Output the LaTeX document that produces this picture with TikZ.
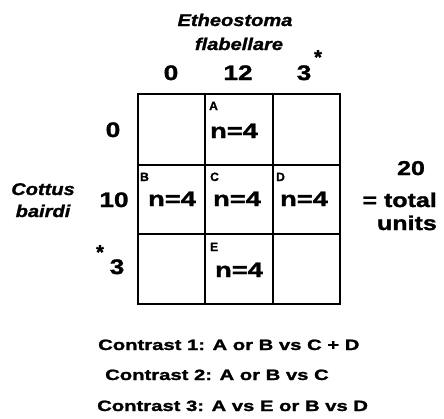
\documentclass[tikz,border=0pt]{standalone}
\usepackage{fontspec}
\setmainfont{Liberation Sans}[FakeBold=1.2]
\newfontfamily\fWide{Liberation Sans}[FakeStretch=1.35,FakeBold=1.5]
\newfontfamily\fNum{Liberation Sans}[FakeStretch=1.3,FakeBold=1.6]
\newfontfamily\fMid{Liberation Sans}[FakeStretch=1.25,FakeBold=1.5]
\newfontfamily\fIt{Liberation Sans}[FakeStretch=1.18,FakeBold=1.3]
\tikzset{
  txt/.style={inner sep=0pt, anchor=base},
  contrast/.style={txt, anchor=base west, font=\fWide\bfseries\fontsize{15}{17}\selectfont},
  nval/.style={txt, font=\fNum\bfseries\fontsize{21}{24}\selectfont},
  cellid/.style={txt, anchor=base west, font=\fontsize{12}{14}\selectfont\bfseries},
  axisnum/.style={txt, font=\fMid\bfseries\fontsize{21}{24}\selectfont},
  species/.style={txt, font=\fIt\bfseries\itshape\fontsize{17}{19}\selectfont},
  totals/.style={txt, font=\fMid\bfseries\fontsize{20}{23}\selectfont},
  star/.style={txt, font=\bfseries\fontsize{20}{22}\selectfont},
  gridline/.style={line width=1.2pt}
}
\begin{document}
\begin{tikzpicture}[x=1pt,y=-1pt]
\path[use as bounding box] (0,0) rectangle (444,418);
% grid
\coordinate (g00) at (138,94);
\coordinate (g11) at (340,304);
\draw[gridline] (g00) rectangle (g11);
\draw[gridline] (205,94) -- (205,304);
\draw[gridline] (273,94) -- (273,304);
\draw[gridline] (138,165) -- (340,165);
\draw[gridline] (138,234) -- (340,234);
% species labels
\node[species] (eth1) at (235,26) {Etheostoma};
\node[species] (eth2) at (239,50) {flabellare};
\node[species] (cot1) at (43,195) {Cottus};
\node[species] (cot2) at (43,217) {bairdi};
% column headers
\node[axisnum] (c0) at (171,80) {0};
\node[axisnum] (c12) at (238,80) {12};
\node[axisnum] (c3) at (304,80) {3};
\node[star] (cs) at (318,64) {*};
% row headers
\node[axisnum] (r0) at (113,137) {0};
\node[axisnum] (r10) at (114,207) {10};
\node[axisnum] (r3) at (117,274) {3};
\node[star] (rs) at (100,259) {*};
% cell ids
\node[cellid] (la) at (209,110) {A};
\node[cellid] (lb) at (140,181) {B};
\node[cellid] (lc) at (210,181) {C};
\node[cellid] (ld) at (276,181) {D};
\node[cellid] (le) at (210,251) {E};
% n values
\node[nval] (na) at (234,138) {n=4};
\node[nval] (nb) at (172,206) {n=4};
\node[nval] (nc) at (237,206) {n=4};
\node[nval] (nd) at (304,206) {n=4};
\node[nval] (ne) at (239,277) {n=4};
% totals
\node[totals] (t20) at (411,175) {20};
\node[totals, anchor=base east] (ttot) at (437,207) {= total};
\node[totals, anchor=base east] (tun) at (437,230) {units};
% contrasts
\node[contrast] (k1) at (98,350) {Contrast 1: A or B vs C + D};
\node[contrast] (k2) at (105,380) {Contrast 2: A or B vs C};
\node[contrast] (k3) at (97,411) {Contrast 3: A vs E or B vs D};
\end{tikzpicture}
\end{document}
